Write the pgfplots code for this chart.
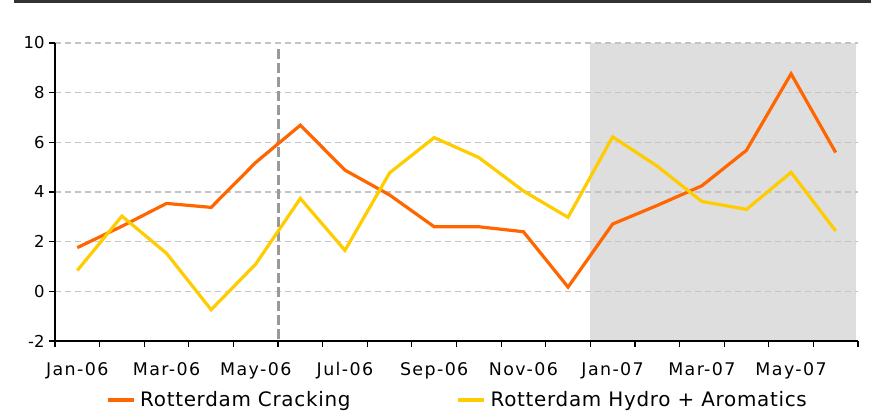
\documentclass[border=0pt]{standalone}
\usepackage{fontspec}
\setmainfont{DejaVu Sans}
\newfontfamily\tickfont[LetterSpace=8]{DejaVu Sans}
\newfontfamily\legfont[LetterSpace=3.5]{DejaVu Sans}
\usepackage{pgfplots}
\usepackage{pgfplotstable}
\pgfplotsset{compat=1.18}
\definecolor{corange}{HTML}{FF6600}
\definecolor{cyellow}{HTML}{FFCC00}
\definecolor{cshade}{HTML}{DEDEDE}
\definecolor{cgrid}{HTML}{C4C4C4}
\definecolor{cvline}{HTML}{999999}
\definecolor{cbar}{HTML}{333333}
\pgfplotstableread{
x orange yellow
0 1.76 0.84
1 2.62 3.03
2 3.54 1.53
3 3.38 -0.74
4 5.19 1.10
5 6.69 3.74
6 4.88 1.65
7 3.88 4.77
8 2.60 6.19
9 2.60 5.39
10 2.40 4.04
11 0.17 2.98
12 2.71 6.22
13 3.46 5.04
14 4.25 3.62
15 5.68 3.30
16 8.76 4.79
17 5.59 2.43
}\datatable
\begin{document}
\begin{tikzpicture}
\begin{axis}[
  set layers,
  scale only axis,
  width=803bp, height=298bp,
  at={(0,0)}, anchor=south west,
  xmin=-0.5, xmax=17.5,
  ymin=-2, ymax=10,
  axis x line*=bottom, axis y line*=left,
  axis line style={black, line width=1.2bp},
  xtick={0,2,...,16},
  xticklabels={Jan-06,Mar-06,May-06,Jul-06,Sep-06,Nov-06,Jan-07,Mar-07,May-07},
  major x tick style={draw=none},
  minor xtick={-0.5,0.5,...,17.5},
  minor tick length=6bp,
  minor x tick style={black, line width=1.2bp},
  ytick={-2,0,...,10},
  major tick length=6bp,
  y tick style={black, line width=1.2bp},
  tick align=outside,
  ymajorgrids,
  grid style={cgrid, line width=1.2bp, dash pattern=on 6bp off 4bp},
  /pgf/number format/assume math mode=true,
  yticklabel style={font=\fontsize{16.5}{18}\selectfont, xshift=-1bp},
  xticklabel style={font=\tickfont\fontsize{17.5}{19}\selectfont, yshift=-12bp},
  legend columns=2,
  legend style={draw=none, fill=none, at={(0.503,-0.198)}, anchor=center,
    font=\legfont\fontsize{20}{22}\selectfont,
    nodes={inner xsep=5bp},
    /tikz/every even column/.append style={column sep=101bp}},
  legend image code/.code={\draw[#1] (0bp,0bp) -- (26bp,0bp);},
]
\addplot[on layer=axis background, fill=cshade, draw=none, forget plot]
  coordinates {(11.5,-2) (11.5,10) (17.45,10) (17.45,-2)} -- cycle;
\addplot[cvline, line width=3bp, dash pattern=on 10bp off 4bp, forget plot]
  coordinates {(4.5,-1.9) (4.5,9.8)};
\addplot[corange, line width=3.2bp] table[x=x, y=orange] {\datatable};
\addlegendentry{Rotterdam Cracking}
\addplot[cyellow, line width=3.2bp] table[x=x, y=yellow] {\datatable};
\addlegendentry{Rotterdam Hydro + Aromatics}
\end{axis}
\fill[cbar] (-41bp,337.5bp) rectangle (816bp,341bp);
\pgfresetboundingbox
\useasboundingbox (-55bp,-72bp) rectangle (820bp,341bp);
\end{tikzpicture}
\end{document}
